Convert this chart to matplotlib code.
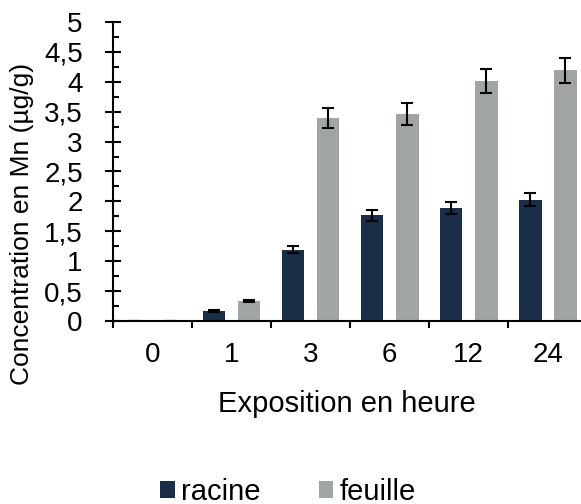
import numpy as np
import matplotlib
matplotlib.use("Agg")
import matplotlib.pyplot as plt
from matplotlib.patches import Patch
from matplotlib.ticker import FuncFormatter, MultipleLocator, FixedLocator

plt.rcParams['font.family'] = ['Liberation Sans', 'DejaVu Sans']

# === DONNEES ===
heures = ['0', '1', '3', '6', '12', '24']
racine = [0.005, 0.17, 1.19, 1.77, 1.89, 2.03]
racine_err = [0.0, 0.02, 0.06, 0.09, 0.10, 0.11]
feuille = [0.005, 0.33, 3.39, 3.46, 4.02, 4.19]
feuille_err = [0.0, 0.02, 0.17, 0.18, 0.20, 0.21]

col_racine = '#1b2e48'
col_feuille = '#a0a5a3'

fig = plt.figure(figsize=(5.81, 5.04), dpi=100)
ax = fig.add_axes([0.1945, 0.3631, 0.8055, 0.5933])

x = np.arange(len(heures))
w = 0.285
off = 0.222
err_kw = dict(ecolor='black', elinewidth=1.5, capsize=4.3, capthick=1.5)

# barres racine / feuille avec barres d'erreur
ax.bar(x - off, racine, w, color=col_racine, yerr=racine_err, error_kw=err_kw)
ax.bar(x + off, feuille, w, color=col_feuille, yerr=feuille_err, error_kw=err_kw)

ax.set_xlim(-0.5, 5.42)
ax.set_ylim(0, 5)

for s in ['top', 'right']:
    ax.spines[s].set_visible(False)
for s in ['left', 'bottom']:
    ax.spines[s].set_linewidth(1.5)

# axe Y : virgule décimale
ax.yaxis.set_major_locator(MultipleLocator(0.5))
ax.yaxis.set_minor_locator(MultipleLocator(0.25))
ax.yaxis.set_major_formatter(FuncFormatter(lambda v, p: ('%g' % v).replace('.', ',')))
ax.tick_params(axis='y', which='major', direction='inout', length=11.5, width=1.5,
               labelsize=20, pad=16)
ax.tick_params(axis='y', which='minor', direction='in', length=4.3, width=1.5)

# axe X : étiquettes au centre, traits entre les groupes
ax.set_xticks(x)
ax.set_xticklabels(heures)
ax.xaxis.set_minor_locator(FixedLocator(np.arange(-0.5, 6, 1.0)))
ax.tick_params(axis='x', which='major', length=0, labelsize=20, pad=15)
ax.tick_params(axis='x', which='minor', direction='out', length=5, width=1.5)

ax.set_xlabel('Exposition en heure', fontsize=21, labelpad=16)
fig.text(22 / 581, 1 - 224 / 504, 'Concentration en Mn (µg/g)', rotation=90,
         fontsize=19, ha='center', va='center')

handles = [Patch(facecolor=col_racine, label='racine'),
           Patch(facecolor=col_feuille, label='feuille')]
fig.legend(handles=handles, loc='lower center', bbox_to_anchor=(288 / 581, -0.032),
           ncol=2, frameon=False, fontsize=21, handlelength=0.5, handleheight=0.5,
           handletextpad=0.22, columnspacing=2.0, borderpad=0)

fig.savefig('out.png', dpi=100)
